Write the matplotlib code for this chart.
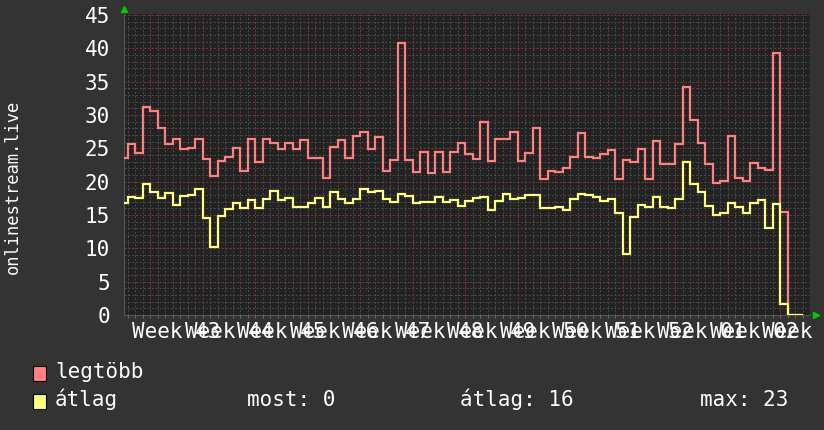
import numpy as np
import matplotlib.pyplot as plt
from matplotlib.patches import Rectangle

# napi ertekek, az elso szelet (-1) csak reszben latszik
legtobb = [23.5, 25.7, 24.25, 31.15, 30.65, 28.1, 25.7, 26.4, 24.95, 25.1,
           26.4, 23.45, 20.85, 23.05, 23.75, 25.1, 21.6, 26.4, 22.95, 26.4,
           25.85, 24.9, 25.85, 24.9, 26.25, 23.5, 23.5, 20.6, 25.2, 26.25,
           23.5, 26.9, 27.45, 24.9, 26.7, 21.65, 23.25, 40.85, 23.25, 21.5,
           24.4, 21.25, 24.5, 21.4, 24.5, 25.85, 24.1, 23.45, 29.0, 23.1,
           26.45, 26.45, 27.45, 23.1, 24.25, 28.1, 20.45, 21.65, 21.4, 22.1,
           23.75, 27.35, 23.75, 23.6, 24.1, 24.75, 20.45, 23.25, 22.9, 24.9,
           20.45, 26.1, 22.65, 22.65, 25.6, 34.2, 29.3, 25.85, 22.65, 19.85,
           20.15, 26.85, 20.5, 20.15, 22.85, 22.0, 21.75, 39.35, 15.5, 0, 0]
atlag = [16.75, 17.75, 17.5, 19.65, 18.5, 17.5, 18.35, 16.5, 17.85, 18.0,
         18.85, 14.5, 10.25, 14.9, 15.85, 16.8, 16.0, 17.25, 16.0, 17.4,
         18.6, 17.25, 17.5, 16.25, 16.15, 16.85, 17.6, 16.25, 18.5, 17.4,
         16.85, 17.4, 18.85, 18.4, 18.65, 17.35, 17.0, 18.15, 17.85, 16.85,
         17.0, 17.0, 17.75, 16.9, 17.25, 16.35, 17.15, 17.6, 17.75, 15.75,
         17.1, 18.1, 17.35, 17.6, 18.0, 18.0, 16.0, 16.0, 16.25, 15.75,
         17.4, 18.1, 18.0, 17.75, 17.1, 17.4, 15.35, 9.1, 14.75, 16.5,
         16.25, 17.75, 16.15, 16.0, 17.4, 22.9, 19.6, 18.4, 16.35, 15.0,
         15.25, 16.75, 16.25, 15.25, 16.85, 17.25, 13.0, 16.7, 1.6, 0, 0]
week_labels = ['Week 43', 'Week 44', 'Week 45', 'Week 46', 'Week 47', 'Week 48',
               'Week 49', 'Week 50', 'Week 51', 'Week 52', 'Week 01', 'Week 02',
               'Week 03']
series_names = ['legtöbb', 'átlag']
series_colors = ['#ff8080', '#ffff80']
stats = ['most: 0', 'átlag: 16', 'max: 23']

W, H = 824, 430
mono = 'DejaVu Sans Mono'

fig = plt.figure(figsize=(W / 100, H / 100), dpi=100, facecolor='#333333')
ax = fig.add_axes([124 / W, 1 - 315 / H, (810 - 124) / W, (315 - 14) / H])
ax.set_facecolor('#222222')

edges = np.arange(-1, len(legtobb))
xmin, xmax = -0.47, 91.0
ymax = 45.15

# racs
for d in range(0, 91):
    ax.axvline(d, color='#4c4c4c', lw=0.7, ls=(0, (2, 2)), zorder=0)
for v in range(1, 46):
    ax.axhline(v, color='#4c4c4c', lw=0.7, ls=(0, (2, 2)), zorder=0)
for d in range(3, 91, 7):
    ax.axvline(d, color='#7a3434', lw=0.7, ls=(0, (2, 2)), zorder=1)
for v in range(5, 46, 5):
    ax.axhline(v, color='#7a3434', lw=0.7, ls=(0, (2, 2)), zorder=1)

ax.stairs(legtobb, edges, baseline=None, color=series_colors[0], lw=1.6, zorder=3)
ax.stairs(atlag, edges, baseline=None, color=series_colors[1], lw=1.6, zorder=4)

ax.set_xlim(xmin, xmax)
ax.set_ylim(0, ymax)

ax.set_yticks(range(0, 46, 5))
ax.set_yticklabels([str(v) for v in range(0, 46, 5)])
ax.set_xticks([6.5 + 7 * k for k in range(len(week_labels))])
ax.set_xticklabels(week_labels)
ax.set_xticks(range(0, 91), minor=True)
ax.tick_params(axis='y', length=0, pad=10, labelsize=15, labelcolor='white')
ax.tick_params(axis='x', which='major', length=0, pad=5, labelsize=15, labelcolor='white')
ax.tick_params(axis='x', which='minor', length=2, color='#777777', direction='out')
for lab in ax.get_xticklabels() + ax.get_yticklabels():
    lab.set_family(mono)

for s in ['top', 'right']:
    ax.spines[s].set_visible(False)
ax.spines['left'].set_color('#555555')
ax.spines['bottom'].set_color('#555555')

# nyilak a tengelyek vegen
ax.plot([0], [1.015], marker='^', color='#00cc00', ms=5, transform=ax.transAxes, clip_on=False)
ax.plot([1.009], [0], marker='>', color='#00cc00', ms=5, transform=ax.transAxes, clip_on=False)

fig.text(13 / W, 1 - 187 / H, 'onlinestream.live', rotation=90, ha='center', va='center',
         family=mono, fontsize=12.3, color='white')

# jelmagyarazat
for i, (name, col) in enumerate(zip(series_names, series_colors)):
    top = 366 + i * 28
    fig.add_artist(Rectangle((33 / W, 1 - (top + 15) / H), 13 / W, 15 / H,
                             transform=fig.transFigure, facecolor=col,
                             edgecolor='black', lw=0.8))
    fig.text(55 / W, 1 - (378 + i * 28.5) / H, name, family=mono, fontsize=15,
             color='white', va='baseline')
for x, s in zip([247, 460, 700], stats):
    fig.text(x / W, 1 - 406.5 / H, s, family=mono, fontsize=15, color='white', va='baseline')

fig.savefig('out.png', dpi=100, facecolor=fig.get_facecolor())
